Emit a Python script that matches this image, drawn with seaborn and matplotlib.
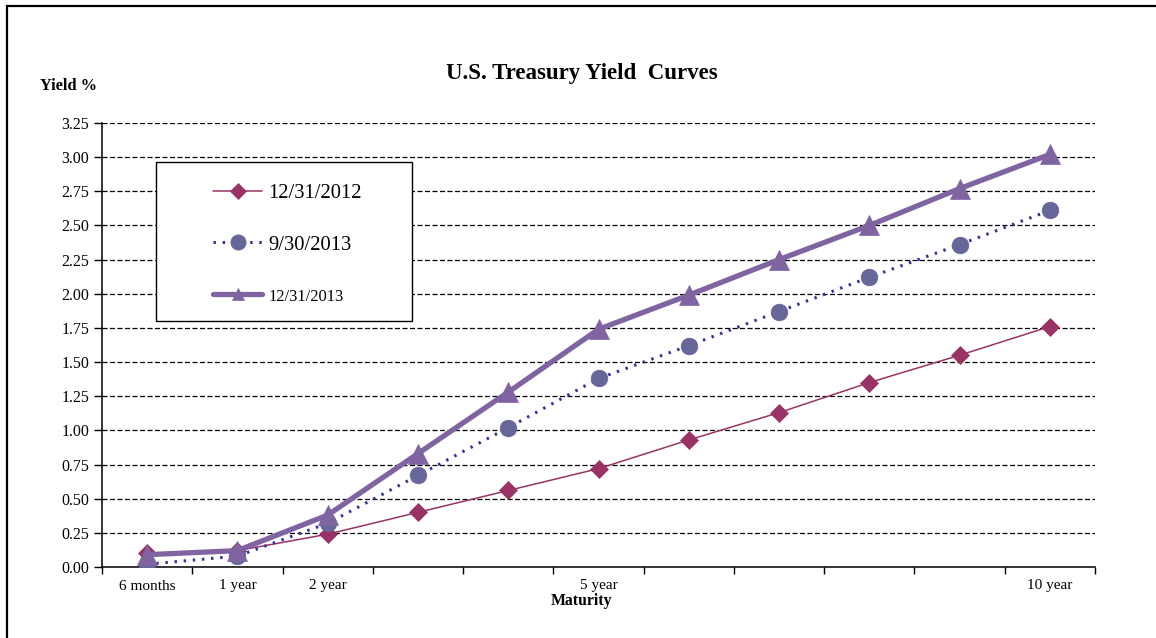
import matplotlib
matplotlib.use("Agg")
import matplotlib.pyplot as plt
import matplotlib.patches as mpatches
import seaborn as sns
import pandas as pd

maturities = ["6 months", "1 year", "2 year", "3 year", "4 year", "5 year",
              "6 year", "7 year", "8 year", "9 year", "10 year"]
tick_labels = ["6 months", "1 year", "2 year", "", "", "5 year",
               "", "", "", "", "10 year"]

yield_2012_12 = [0.10, 0.12, 0.24, 0.40, 0.56, 0.72, 0.93, 1.13, 1.35, 1.55, 1.76]
yield_2013_09 = [0.02, 0.08, 0.32, 0.67, 1.02, 1.38, 1.62, 1.87, 2.12, 2.36, 2.61]
yield_2013_12 = [0.09, 0.12, 0.38, 0.83, 1.28, 1.74, 1.99, 2.25, 2.50, 2.77, 3.02]

y_ticks = [0.00, 0.25, 0.50, 0.75, 1.00, 1.25, 1.50, 1.75, 2.00, 2.25, 2.50,
           2.75, 3.00, 3.25]

pos = list(range(len(maturities)))
df = pd.DataFrame({"pos": pos,
                   "m2012_12": yield_2012_12,
                   "m2013_09": yield_2013_09,
                   "m2013_12": yield_2013_12})

sns.set_style("ticks")
plt.rcParams['font.family'] = ['Liberation Serif', 'DejaVu Serif']
plt.rcParams['text.color'] = 'black'
plt.rcParams['xtick.color'] = 'black'
plt.rcParams['ytick.color'] = 'black'
plt.rcParams['axes.edgecolor'] = 'black'

W, H = 1156, 638
fig = plt.figure(figsize=(W / 100, H / 100), dpi=100)
ax = fig.add_axes([102 / W, 1 - 567 / H, (1095 - 102) / W, (567 - 123) / H])

sns.lineplot(data=df, x="pos", y="m2012_12", ax=ax, color="#993366",
             linewidth=1.1, marker="D", markersize=9.5, markeredgecolor="#993366",
             markeredgewidth=0.5, label="12/31/2012", zorder=3)
sns.lineplot(data=df, x="pos", y="m2013_09", ax=ax, color="#333399",
             linewidth=2.2, linestyle=(0, (0.8, 2.2)), marker="o", markersize=12,
             markerfacecolor="#666699", markeredgecolor="#666699",
             markeredgewidth=0.5, label="9/30/2013", zorder=4)
sns.lineplot(data=df, x="pos", y="m2013_12", ax=ax, color="#8064A2",
             linewidth=3.8, marker="^", markersize=15, markeredgecolor="#8064A2",
             markeredgewidth=0.5, label="12/31/2013", zorder=5)

ax.set_xlim(-0.5, len(maturities) - 0.5)
ax.set_ylim(0, 3.25)
ax.set_yticks(y_ticks)
ax.set_yticklabels([f"{v:.2f}" for v in y_ticks])

# tick marks between categories, labels centred under categories
ax.set_xticks([p - 0.5 for p in pos] + [len(pos) - 0.5])
ax.set_xticklabels([])
ax.set_xticks(pos, minor=True)
ax.set_xticklabels(tick_labels, minor=True)
ax.tick_params(axis="x", which="major", length=5, width=1, color="black", direction="out")
ax.tick_params(axis="x", which="minor", length=0, pad=9, labelsize=11)
ax.tick_params(axis="y", length=6, width=1, color="black", direction="out", pad=3,
               labelsize=11.5)

ax.yaxis.grid(True, color="black", linestyle=(0, (4, 2)), linewidth=0.9)
ax.set_axisbelow(True)
for side in ["top", "right"]:
    ax.spines[side].set_visible(False)
for side in ["left", "bottom"]:
    ax.spines[side].set_color("black")
    ax.spines[side].set_linewidth(1.1)

ax.set_xlabel("")
ax.set_ylabel("")
fig.text(581 / W, 1 - 601 / H, "Maturity", ha="center", va="center",
         fontsize=11.3, fontweight="bold")
fig.text(40 / W, 1 - 86 / H, "Yield %", ha="left", va="center",
         fontsize=11.8, fontweight="bold")
fig.text(582 / W, 1 - 73 / H, "U.S. Treasury Yield  Curves", ha="center",
         va="center", fontsize=16.5, fontweight="bold")

# legend box drawn separately so it can be wider than its entries
box = mpatches.Rectangle(((156 - 102) / 993, (567 - 321) / 444), 256 / 993, 159 / 444,
                         transform=ax.transAxes, facecolor="white", edgecolor="black",
                         linewidth=1.0, zorder=9)
ax.add_patch(box)
leg = ax.legend(loc="upper left", bbox_to_anchor=((213 - 102) / 993, (567 - 184) / 444),
                frameon=False, borderpad=0, labelspacing=1.55, handlelength=2.4,
                handletextpad=0.3, borderaxespad=0, fontsize=14.8)
leg.set_zorder(10)
texts = leg.get_texts()
texts[2].set_fontsize(11.9)
for handle, ms in zip(leg.legend_handles, [8, 11, 9]):
    handle.set_markersize(ms)

# outer frame of the chart area (cropped on the right and bottom)
frame = mpatches.Rectangle((7 / W, -0.2), 1.2, 1.2 - 6 / H, transform=fig.transFigure,
                           fill=False, edgecolor="black", linewidth=1.6, clip_on=False)
fig.patches.append(frame)

fig.savefig("out.png", dpi=100, facecolor="white")
